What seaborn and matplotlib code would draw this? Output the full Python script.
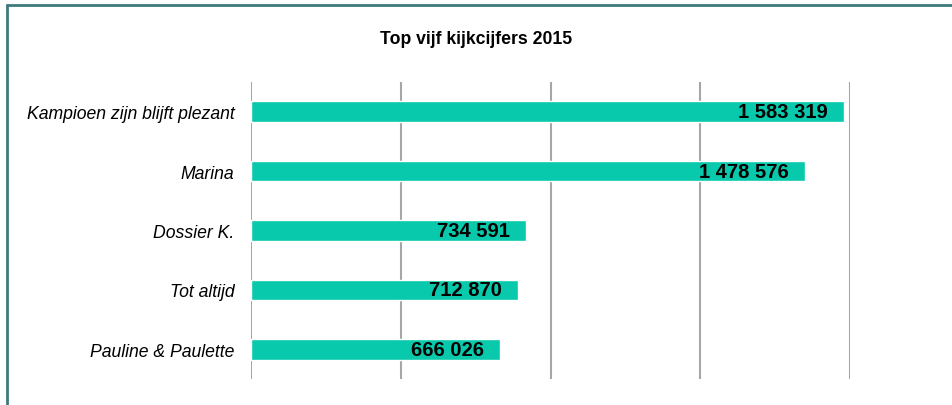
import matplotlib
matplotlib.use("Agg")
import matplotlib.pyplot as plt
from matplotlib import font_manager
from matplotlib.lines import Line2D
import seaborn as sns
import pandas as pd

programmes = ["Kampioen zijn blijft plezant", "Marina", "Dossier K.", "Tot altijd", "Pauline & Paulette"]
viewers = [1583319, 1478576, 734591, 712870, 666026]
title = "Top vijf kijkcijfers 2015"

names = {f.name for f in font_manager.fontManager.ttflist}
narrow = "Liberation Sans Narrow" if "Liberation Sans Narrow" in names else "Liberation Sans"
regular = "Liberation Sans"
value_size = 16.5 if narrow == "Liberation Sans Narrow" else 14.5
title_size = 14.5 if narrow == "Liberation Sans Narrow" else 12.7

sns.set_theme(style="white")
plt.rcParams["font.family"] = [regular, "DejaVu Sans"]

df = pd.DataFrame({"programme": programmes, "viewers": viewers})

fig = plt.figure(figsize=(9.52, 4.06), dpi=100)
ax = fig.add_axes([251 / 952, 1 - 380 / 406, (850 - 251) / 952, (380 - 83) / 406])

sns.barplot(data=df, x="viewers", y="programme", orient="h", color="#08c9ab",
            saturation=1, width=0.35, ax=ax)

ax.set_xlim(0, 1600000)
ax.set_ylim(4.5, -0.5)
ax.set_xticks([0, 400000, 800000, 1200000, 1600000])
ax.xaxis.grid(True, color="#a6a6a6", linewidth=1.5)
ax.set_axisbelow(True)
ax.tick_params(axis="x", labelbottom=False, length=0)
ax.tick_params(axis="y", length=0, pad=12)
for s in ax.spines.values():
    s.set_visible(False)
ax.set_xlabel("")
ax.set_ylabel("")
for lab in ax.get_yticklabels():
    lab.set_fontstyle("italic")
    lab.set_fontsize(12.7)
    lab.set_color("black")

for i, v in enumerate(viewers):
    ax.annotate(f"{v:,}".replace(",", " "), xy=(v, i), xytext=(-11.5, 0),
                textcoords="offset points", ha="right", va="center",
                fontsize=value_size, fontweight="bold", family=[narrow, "DejaVu Sans"],
                color="black")

fig.text(476 / 952, 1 - 40 / 406, title, ha="center", va="center",
         fontsize=title_size, fontweight="bold", family=[narrow, "DejaVu Sans"], color="black")

border = "#3f7a7c"
fig.add_artist(Line2D([7 / 952, 1], [1 - 5.5 / 406, 1 - 5.5 / 406], color=border, lw=2,
                      transform=fig.transFigure))
fig.add_artist(Line2D([7 / 952, 7 / 952], [0, 1 - 5.5 / 406], color=border, lw=2,
                      transform=fig.transFigure))

fig.savefig("out.png", dpi=100, facecolor="white")
